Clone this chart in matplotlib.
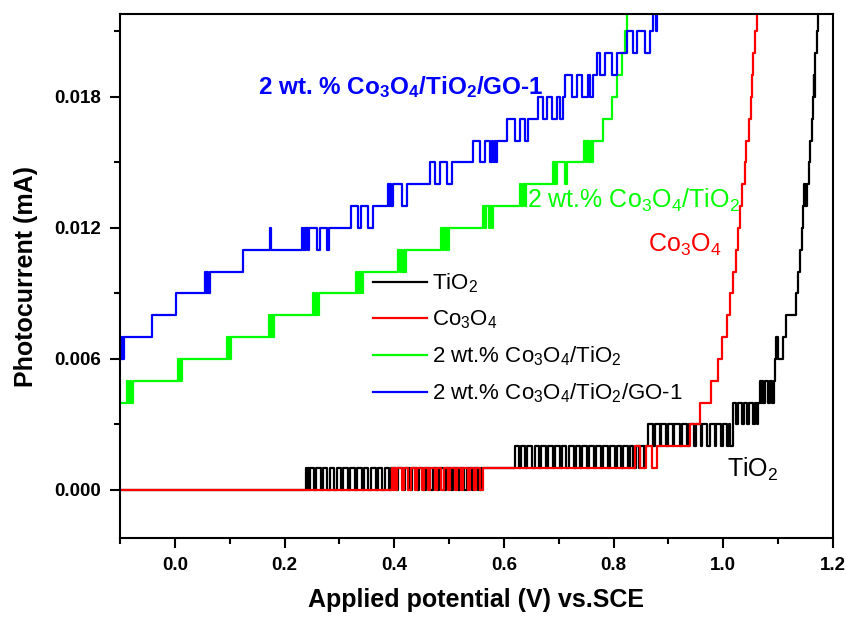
import matplotlib
matplotlib.use("Agg")
import matplotlib.pyplot as plt
from matplotlib.ticker import MultipleLocator, FormatStrFormatter

plt.rcParams['font.family'] = ['Liberation Sans', 'DejaVu Sans']
plt.rcParams['mathtext.default'] = 'regular'

# ---------------- data (step traces, photocurrent in mA) ----------------
tio2_x = [-0.100, 0.240, 0.2415, 0.243, 0.2445, 0.246,
          0.253, 0.2575, 0.266, 0.270, 0.278, 0.2825, 0.291, 0.295, 0.303, 0.3075,
          0.316, 0.320, 0.328, 0.3325, 0.341, 0.345, 0.353, 0.3575, 0.366, 0.370,
          0.378, 0.3825, 0.391, 0.395, 0.403, 0.4075, 0.416, 0.420, 0.428, 0.4325,
          0.441, 0.445, 0.453, 0.4575, 0.466, 0.470, 0.478, 0.4825, 0.491, 0.495,
          0.503, 0.5075, 0.516, 0.520, 0.528, 0.5325, 0.541, 0.545, 0.553, 0.5575,
          0.620, 0.627, 0.631, 0.639, 0.643, 0.652, 0.656, 0.664, 0.668, 0.677,
          0.681, 0.689, 0.693, 0.702, 0.706, 0.714, 0.718, 0.727, 0.731, 0.739,
          0.743, 0.752, 0.756, 0.764, 0.768, 0.777, 0.781, 0.789, 0.793, 0.802,
          0.806, 0.814, 0.818, 0.827, 0.830, 0.836, 0.840, 0.846, 0.849, 0.855, 0.858,
          0.862, 0.872, 0.875, 0.884, 0.887, 0.896, 0.899, 0.908, 0.911, 0.921,
          0.924, 0.934, 0.937, 0.946, 0.950, 0.959, 0.962, 0.971, 0.975, 0.984,
          0.987, 0.996, 0.999, 1.007, 1.010, 1.013,
          1.017, 1.024, 1.027, 1.034, 1.037, 1.044, 1.047, 1.054, 1.057, 1.062, 1.064,
          1.067, 1.069, 1.071, 1.073, 1.076, 1.082, 1.085, 1.089, 1.092,
          1.094, 1.097, 1.099, 1.108, 1.115, 1.133, 1.137, 1.140, 1.143, 1.146,
          1.148, 1.149, 1.150, 1.151, 1.152, 1.156, 1.158, 1.161, 1.163, 1.165,
          1.166, 1.167, 1.168, 1.170, 1.173, 1.176]
tio2_y = [0.000, 0.001, 0.000, 0.001, 0.000, 0.001,
          0.000, 0.001, 0.000, 0.001, 0.000, 0.001, 0.000, 0.001, 0.000, 0.001,
          0.000, 0.001, 0.000, 0.001, 0.000, 0.001, 0.000, 0.001, 0.000, 0.001,
          0.000, 0.001, 0.000, 0.001, 0.000, 0.001, 0.000, 0.001, 0.000, 0.001,
          0.000, 0.001, 0.000, 0.001, 0.000, 0.001, 0.000, 0.001, 0.000, 0.001,
          0.000, 0.001, 0.000, 0.001, 0.000, 0.001, 0.000, 0.001, 0.000, 0.001,
          0.002, 0.001, 0.002, 0.001, 0.002, 0.001, 0.002, 0.001, 0.002, 0.001,
          0.002, 0.001, 0.002, 0.001, 0.002, 0.001, 0.002, 0.001, 0.002, 0.001,
          0.002, 0.001, 0.002, 0.001, 0.002, 0.001, 0.002, 0.001, 0.002, 0.001,
          0.002, 0.001, 0.002, 0.001, 0.002, 0.001, 0.002, 0.001, 0.002, 0.001, 0.002,
          0.003, 0.002, 0.003, 0.002, 0.003, 0.002, 0.003, 0.002, 0.003, 0.002,
          0.003, 0.002, 0.003, 0.002, 0.003, 0.002, 0.003, 0.002, 0.003, 0.002,
          0.003, 0.002, 0.003, 0.002, 0.003, 0.002,
          0.004, 0.003, 0.004, 0.003, 0.004, 0.003, 0.004, 0.003, 0.004, 0.003, 0.004,
          0.005, 0.004, 0.005, 0.004, 0.005, 0.004, 0.005, 0.004, 0.005,
          0.006, 0.007, 0.006, 0.007, 0.008, 0.009, 0.010, 0.011, 0.012, 0.013,
          0.014, 0.013, 0.014, 0.013, 0.014, 0.015, 0.016, 0.017, 0.018, 0.019,
          0.018, 0.019, 0.020, 0.021, 0.022, 0.023]

co3o4_x = [-0.100, 0.396, 0.398, 0.399, 0.401, 0.402, 0.404,
           0.406, 0.414, 0.418, 0.426, 0.430, 0.438, 0.442, 0.450, 0.454, 0.462,
           0.466, 0.474, 0.478, 0.486, 0.490, 0.498, 0.502, 0.510, 0.514, 0.522,
           0.526, 0.534, 0.538, 0.546, 0.550, 0.556, 0.562,
           0.839, 0.848, 0.860, 0.870, 0.879,
           0.939, 0.957, 0.978, 0.990, 0.998, 1.007, 1.012, 1.017, 1.023, 1.027,
           1.031, 1.035, 1.039, 1.042, 1.046, 1.050, 1.052, 1.055, 1.058, 1.061]
co3o4_y = [0.000, 0.001, 0.000, 0.001, 0.000, 0.001, 0.000,
           0.001, 0.000, 0.001, 0.000, 0.001, 0.000, 0.001, 0.000, 0.001, 0.000,
           0.001, 0.000, 0.001, 0.000, 0.001, 0.000, 0.001, 0.000, 0.001, 0.000,
           0.001, 0.000, 0.001, 0.000, 0.001, 0.000, 0.001,
           0.002, 0.001, 0.002, 0.001, 0.002,
           0.003, 0.004, 0.005, 0.006, 0.007, 0.008, 0.009, 0.010, 0.011, 0.012,
           0.013, 0.014, 0.015, 0.016, 0.017, 0.018, 0.019, 0.020, 0.021, 0.023]

cto_x = [-0.100, -0.087, -0.085, -0.082, -0.080, -0.077,
         0.005, 0.007, 0.009, 0.011, 0.013,
         0.095, 0.097, 0.099, 0.100, 0.102,
         0.172, 0.174, 0.175, 0.177, 0.178, 0.179, 0.181,
         0.252, 0.254, 0.257, 0.259, 0.262,
         0.330, 0.333, 0.335, 0.338, 0.340, 0.342, 0.343,
         0.407, 0.410, 0.412, 0.415, 0.417, 0.419, 0.421,
         0.486, 0.489, 0.491, 0.494, 0.496, 0.498, 0.500,
         0.561, 0.565, 0.568, 0.572, 0.575, 0.578, 0.580,
         0.629, 0.632, 0.635, 0.638, 0.641,
         0.689, 0.691, 0.693, 0.695, 0.697, 0.712, 0.715,
         0.746, 0.749, 0.752, 0.756, 0.758, 0.760, 0.762,
         0.780, 0.798, 0.807, 0.815, 0.820, 0.824]
cto_y = [0.004, 0.005, 0.004, 0.005, 0.004, 0.005,
         0.006, 0.005, 0.006, 0.005, 0.006,
         0.007, 0.006, 0.007, 0.006, 0.007,
         0.008, 0.007, 0.008, 0.007, 0.008, 0.007, 0.008,
         0.009, 0.008, 0.009, 0.008, 0.009,
         0.010, 0.009, 0.010, 0.009, 0.010, 0.009, 0.010,
         0.011, 0.010, 0.011, 0.010, 0.011, 0.010, 0.011,
         0.012, 0.011, 0.012, 0.011, 0.012, 0.011, 0.012,
         0.013, 0.012, 0.013, 0.012, 0.013, 0.012, 0.013,
         0.014, 0.013, 0.014, 0.013, 0.014,
         0.015, 0.014, 0.015, 0.014, 0.015, 0.014, 0.015,
         0.016, 0.015, 0.016, 0.015, 0.016, 0.015, 0.016,
         0.017, 0.018, 0.019, 0.020, 0.021, 0.023]

ctg_x = [-0.100, -0.099, -0.0985, -0.097, -0.096, -0.095, -0.094, -0.092,
         -0.042, 0.003, 0.055, 0.057, 0.059, 0.061, 0.064,
         0.125, 0.173, 0.175,
         0.232, 0.234, 0.236, 0.238, 0.240, 0.242, 0.245, 0.259, 0.264, 0.277, 0.281,
         0.322, 0.334, 0.340, 0.352, 0.361,
         0.388, 0.390, 0.392, 0.394, 0.397, 0.414, 0.423,
         0.465, 0.474, 0.483, 0.496, 0.505,
         0.543, 0.556, 0.565, 0.574, 0.578, 0.580, 0.583, 0.585, 0.587,
         0.605, 0.620, 0.629, 0.638, 0.644,
         0.662, 0.671, 0.678, 0.687, 0.696, 0.702, 0.707,
         0.711, 0.724, 0.733, 0.742, 0.753, 0.757, 0.762,
         0.769, 0.775, 0.784, 0.798, 0.806,
         0.824, 0.835, 0.842, 0.857, 0.866,
         0.871, 0.877, 0.880, 0.884]
ctg_y = [0.006, 0.007, 0.006, 0.007, 0.006, 0.007, 0.006, 0.007,
         0.008, 0.009, 0.010, 0.009, 0.010, 0.009, 0.010,
         0.011, 0.012, 0.011,
         0.012, 0.011, 0.012, 0.011, 0.012, 0.011, 0.012, 0.011, 0.012, 0.011, 0.012,
         0.013, 0.012, 0.013, 0.012, 0.013,
         0.014, 0.013, 0.014, 0.013, 0.014, 0.013, 0.014,
         0.015, 0.014, 0.015, 0.014, 0.015,
         0.016, 0.015, 0.016, 0.015, 0.016, 0.015, 0.016, 0.015, 0.016,
         0.017, 0.016, 0.017, 0.016, 0.017,
         0.018, 0.017, 0.018, 0.017, 0.018, 0.017, 0.018,
         0.019, 0.018, 0.019, 0.018, 0.019, 0.018, 0.019,
         0.020, 0.019, 0.020, 0.019, 0.020,
         0.021, 0.020, 0.021, 0.020, 0.021,
         0.022, 0.021, 0.022, 0.023]

series_labels = ['TiO$_2$', 'Co$_3$O$_4$', '2 wt.% Co$_3$O$_4$/TiO$_2$',
                 '2 wt.% Co$_3$O$_4$/TiO$_2$/GO-1']
series_colors = ['#000000', '#ff0000', '#00ff00', '#0000ff']

x_ticks = [0.0, 0.2, 0.4, 0.6, 0.8, 1.0, 1.2]
y_ticks = [0.000, 0.006, 0.012, 0.018]

# ---------------- figure ----------------
fig = plt.figure(figsize=(8.46, 6.17), dpi=100)
ax = fig.add_axes([0.1418, 0.128, 0.8428, 0.8493])

data = [(tio2_x, tio2_y), (co3o4_x, co3o4_y), (cto_x, cto_y), (ctg_x, ctg_y)]
for (xs, ys), lab, col in zip(data, series_labels, series_colors):
    ax.plot(xs, ys, drawstyle='steps-post', color=col, lw=1.6, label=lab)

ax.set_xlim(-0.1, 1.2)
ax.set_ylim(-0.0022, 0.0218)
ax.set_xticks(x_ticks)
ax.set_yticks(y_ticks)
ax.xaxis.set_minor_locator(MultipleLocator(0.1))
ax.yaxis.set_minor_locator(MultipleLocator(0.003))
ax.xaxis.set_major_formatter(FormatStrFormatter('%.1f'))
ax.yaxis.set_major_formatter(FormatStrFormatter('%.3f'))
ax.tick_params(which='major', direction='out', length=7.5, width=1.5, pad=6,
               labelsize=13.5)
ax.tick_params(which='minor', direction='out', length=4.5, width=1.5)
for lab in ax.get_xticklabels() + ax.get_yticklabels():
    lab.set_fontweight('bold')
for s in ax.spines.values():
    s.set_linewidth(1.5)

ax.set_xlabel('Applied potential (V) vs.SCE', fontsize=18, fontweight='bold', labelpad=10)
ax.set_ylabel('Photocurrent (mA)', fontsize=18, fontweight='bold', labelpad=12)

ax.legend(loc='upper left', bbox_to_anchor=(0.355, 0.5086), frameon=False,
          fontsize=16, handlelength=2.43, handletextpad=0.22, labelspacing=0.6,
          borderpad=0, borderaxespad=0)

ax.text(0.151, 0.01812, '2 wt. % Co$_3$O$_4$/TiO$_2$/GO-1', color='#0000ff',
        fontsize=17.5, fontweight='bold', va='baseline', ha='left')
ax.text(0.642, 0.01292, '2 wt.% Co$_3$O$_4$/TiO$_2$', color='#00ff00',
        fontsize=18, va='baseline', ha='left')
ax.text(0.862, 0.01093, 'Co$_3$O$_4$', color='#ff0000',
        fontsize=18, va='baseline', ha='left')
ax.text(1.006, 0.0006, 'TiO$_2$', color='#000000',
        fontsize=18, va='baseline', ha='left')

fig.savefig('out.png', dpi=100)
